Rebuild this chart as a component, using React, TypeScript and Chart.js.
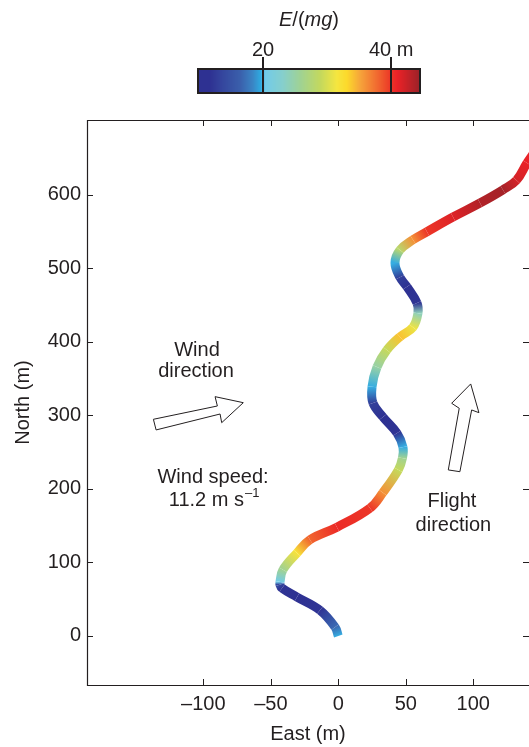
import React, { useEffect, useRef } from 'react';
import { Chart, registerables } from 'chart.js';
Chart.register(...registerables);

// ---- Data ----
const eastM = [0, -2.4, -13.6, -30.6, -41.7, -43.2, -43.2, -41, -30.6, -21, -1, 23.5, 33, 44.5, 47.5, 47.9, 43.5, 33.1, 25.7, 25, 28.7, 36, 45.7, 55.3, 59, 58.3, 50.9, 45.7, 42, 45.7, 55.3, 65.7, 85, 105, 122, 132, 139.8, 146];
const northM = [0, 12, 35, 53, 65, 70, 73.5, 90, 113, 131, 148, 174, 195, 226, 242, 257, 276, 298, 317, 339, 366, 389, 407, 420, 439, 453, 475, 488, 507.5, 525, 539, 550, 570, 589, 607, 620, 643.5, 660];
const energyE = [19.7, 17, 12, 11, 12, 14, 20.5, 26, 32, 38, 40.5, 40, 36, 29, 26, 19.7, 12, 11, 13, 19.7, 25, 29, 34, 31, 24, 12, 11, 13, 19.7, 28, 36, 40, 41.5, 43.5, 44, 42, 41, 41];

const xTicks = [-100, -50, 0, 50, 100];
const yTicks = [0, 100, 200, 300, 400, 500, 600];
const xRange = [-186.2, 141.3];
const yRange = [-66.7, 702];

const cbRange = [9.84, 44.5];
const cbTicks = [20, 40];
const cbTickLabels = ['20', '40 m'];

const cmapValues = [9.8, 11.7, 13.75, 16.4, 18.4, 19.6, 20.4, 23.1, 25.8, 28.9, 31.5, 33.1, 35.2, 37.8, 39.8, 40.9, 44.5];
const cmapColors = ['#2e3192', '#2e3192', '#35479e', '#3a5fab', '#3a85c5', '#2ea9e0', '#72cbe8', '#86cfcc', '#9fd294', '#c3d85e', '#f5e640', '#fcd92b', '#f6a33a', '#f16a30', '#ec3a27', '#ec2227', '#9a2228'];

// annotation arrows (data coordinates)
const windArrowE = [-137, -135, -87.6, -86.4, -70.4, -91.3, -89.6];
const windArrowN = [294.8, 280.3, 302, 290.2, 317.4, 325.6, 312.9];
const flightArrowE = [98.1, 104.2, 98.8, 90.1, 81.5, 89.6, 84];
const flightArrowN = [342.9, 303.8, 307.5, 223.5, 225.9, 309.8, 316.6];

const noteTexts = ['Wind', 'direction', 'Wind speed:', 'Flight', 'direction'];
const noteE = [-104.7, -105.4, -92.8, 84.2, 85.3];
const noteN = [387.8, 359.2, 216.3, 182.3, 149.7];
const speedText = '11.2 m s';
const speedSup = '\u20131';
const speedPos = [-92, 185];

const FONT = '"Liberation Sans", Arial, Helvetica, sans-serif';
const INK = '#231f20';

function hexToRgb(h: string) {
  const n = parseInt(h.slice(1), 16);
  return [(n >> 16) & 255, (n >> 8) & 255, n & 255];
}
function cmap(v: number): string {
  if (v <= cmapValues[0]) return cmapColors[0];
  const last = cmapValues.length - 1;
  if (v >= cmapValues[last]) return cmapColors[last];
  for (let i = 0; i < last; i++) {
    if (v >= cmapValues[i] && v <= cmapValues[i + 1]) {
      const t = (v - cmapValues[i]) / (cmapValues[i + 1] - cmapValues[i]);
      const a = hexToRgb(cmapColors[i]);
      const b = hexToRgb(cmapColors[i + 1]);
      const c = a.map((x, k) => Math.round(x + (b[k] - x) * t));
      return `rgb(${c[0]},${c[1]},${c[2]})`;
    }
  }
  return cmapColors[last];
}

const fmt = (v: number) => (v < 0 ? '\u2013' + Math.abs(v) : String(v));

const framePlugin = {
  id: 'frame',
  afterDatasetsDraw(chart: any) {
    const { ctx, chartArea: a, scales } = chart;
    ctx.save();
    ctx.strokeStyle = INK;
    ctx.lineWidth = 1.2;
    ctx.beginPath();
    ctx.moveTo(a.right + 2, a.top + 0.5);
    ctx.lineTo(a.left + 0.5, a.top + 0.5);
    ctx.lineTo(a.left + 0.5, a.bottom + 0.5);
    ctx.lineTo(a.right + 2, a.bottom + 0.5);
    ctx.stroke();
    const tl = 6;
    ctx.lineWidth = 1;
    ctx.beginPath();
    for (const v of xTicks) {
      const px = Math.round(scales.x.getPixelForValue(v)) + 0.5;
      ctx.moveTo(px, a.bottom);
      ctx.lineTo(px, a.bottom - tl);
      ctx.moveTo(px, a.top);
      ctx.lineTo(px, a.top + tl);
    }
    for (const v of yTicks) {
      const py = Math.round(scales.y.getPixelForValue(v)) + 0.5;
      ctx.moveTo(a.left, py);
      ctx.lineTo(a.left + tl, py);
      ctx.moveTo(a.right, py);
      ctx.lineTo(a.right - tl, py);
    }
    ctx.stroke();
    ctx.restore();
  },
};

const notePlugin = {
  id: 'notes',
  afterDraw(chart: any) {
    const { ctx, scales } = chart;
    const X = (v: number) => scales.x.getPixelForValue(v);
    const Y = (v: number) => scales.y.getPixelForValue(v);
    ctx.save();
    const poly = (es: number[], ns: number[]) => {
      ctx.beginPath();
      es.forEach((e, i) => {
        if (i === 0) ctx.moveTo(X(e), Y(ns[i]));
        else ctx.lineTo(X(e), Y(ns[i]));
      });
      ctx.closePath();
      ctx.fillStyle = '#ffffff';
      ctx.fill();
      ctx.strokeStyle = INK;
      ctx.lineWidth = 1;
      ctx.lineJoin = 'miter';
      ctx.stroke();
    };
    poly(windArrowE, windArrowN);
    poly(flightArrowE, flightArrowN);

    ctx.fillStyle = INK;
    ctx.font = `20px ${FONT}`;
    ctx.textAlign = 'center';
    ctx.textBaseline = 'middle';
    noteTexts.forEach((t, i) => ctx.fillText(t, X(noteE[i]), Y(noteN[i])));

    // speed line with superscript
    ctx.font = `20px ${FONT}`;
    const w1 = ctx.measureText(speedText).width;
    ctx.font = `13px ${FONT}`;
    const w2 = ctx.measureText(speedSup).width;
    const cx = X(speedPos[0]);
    const cy = Y(speedPos[1]);
    const x0 = cx - (w1 + w2 + 1) / 2;
    ctx.textAlign = 'left';
    ctx.font = `20px ${FONT}`;
    ctx.fillText(speedText, x0, cy);
    ctx.font = `13px ${FONT}`;
    ctx.fillText(speedSup, x0 + w1 + 1, cy - 7);
    ctx.restore();
  },
};

const colorbarPlugin = {
  id: 'colorbar',
  afterDraw(chart: any) {
    const { ctx, chartArea: a, scales } = chart;
    const x = scales.x;
    ctx.save();
    for (let px = Math.floor(a.left); px < Math.ceil(a.right); px++) {
      ctx.fillStyle = cmap(x.getValueForPixel(px + 0.5));
      ctx.fillRect(px, a.top, 1, a.bottom - a.top);
    }
    ctx.strokeStyle = INK;
    ctx.lineWidth = 2;
    ctx.strokeRect(a.left, a.top, a.right - a.left, a.bottom - a.top);
    ctx.beginPath();
    cbTicks.forEach((v) => {
      const px = Math.round(x.getPixelForValue(v));
      ctx.moveTo(px, a.top - 12);
      ctx.lineTo(px, a.bottom);
    });
    ctx.stroke();
    ctx.fillStyle = INK;
    ctx.font = `20px ${FONT}`;
    ctx.textAlign = 'center';
    ctx.textBaseline = 'middle';
    cbTicks.forEach((v, i) => {
      ctx.fillText(cbTickLabels[i], x.getPixelForValue(v), a.top - 19);
    });
    // title E/(mg) with italic parts
    const parts: [string, boolean][] = [['E', true], ['/(', false], ['mg', true], [')', false]];
    let total = 0;
    const widths = parts.map(([t, it]) => {
      ctx.font = `${it ? 'italic ' : ''}20px ${FONT}`;
      const w = ctx.measureText(t).width;
      total += w;
      return w;
    });
    let cx = (a.left + a.right) / 2 - total / 2;
    ctx.textAlign = 'left';
    parts.forEach(([t, it], i) => {
      ctx.font = `${it ? 'italic ' : ''}20px ${FONT}`;
      ctx.fillText(t, cx, 20);
      cx += widths[i];
    });
    ctx.restore();
  },
};

export default function App() {
  const mainRef = useRef<HTMLCanvasElement>(null);
  const cbRef = useRef<HTMLCanvasElement>(null);

  useEffect(() => {
    const tickFont = { family: FONT, size: 20 };
    const main = new Chart(mainRef.current as HTMLCanvasElement, {
      type: 'line',
      data: {
        datasets: [
          {
            data: eastM.map((e, i) => ({ x: e, y: northM[i] })),
            borderWidth: 9,
            pointRadius: 0,
            tension: 0.4,
            fill: false,
            borderCapStyle: 'butt',
            borderJoinStyle: 'round',
            borderColor: cmap(energyE[0]),
            segment: {
              borderColor: (c: any) => {
                const g = c.chart.ctx.createLinearGradient(c.p0.x, c.p0.y, c.p1.x, c.p1.y);
                g.addColorStop(0, cmap(energyE[c.p0DataIndex]));
                g.addColorStop(1, cmap(energyE[c.p1DataIndex]));
                return g;
              },
            },
          } as any,
        ],
      },
      options: {
        animation: false,
        responsive: false,
        devicePixelRatio: 1,
        layout: { padding: { top: 120, left: 0, right: 0, bottom: 0 } },
        plugins: { legend: { display: false }, tooltip: { enabled: false } },
        scales: {
          x: {
            type: 'linear',
            min: xRange[0],
            max: xRange[1],
            grid: { display: false, drawTicks: false },
            border: { display: false },
            afterBuildTicks: (s: any) => {
              s.ticks = xTicks.map((v) => ({ value: v }));
            },
            afterFit: (s: any) => {
              s.height = 62;
            },
            ticks: { padding: 7, autoSkip: false, maxRotation: 0, font: tickFont, color: INK, callback: (v: any) => fmt(Number(v)) },
            title: { display: true, text: 'East (m)', font: tickFont, color: INK, padding: { top: 1, bottom: 1 } },
          },
          y: {
            type: 'linear',
            min: yRange[0],
            max: yRange[1],
            grid: { display: false, drawTicks: false },
            border: { display: false },
            afterBuildTicks: (s: any) => {
              s.ticks = yTicks.map((v) => ({ value: v }));
            },
            afterFit: (s: any) => {
              s.width = 87;
            },
            ticks: { padding: 6, autoSkip: false, font: tickFont, color: INK, callback: (v: any) => fmt(Number(v)) },
            title: { display: true, text: 'North (m)', font: tickFont, color: INK, padding: { top: 11, bottom: 11 } },
          },
        },
      } as any,
      plugins: [framePlugin, notePlugin],
    });

    const cb = new Chart(cbRef.current as HTMLCanvasElement, {
      type: 'scatter',
      data: { datasets: [{ data: [] }] },
      options: {
        animation: false,
        responsive: false,
        devicePixelRatio: 1,
        layout: { padding: { top: 69, left: 198, right: 109, bottom: 7 } },
        plugins: { legend: { display: false }, tooltip: { enabled: false } },
        scales: {
          x: { type: 'linear', min: cbRange[0], max: cbRange[1], display: false },
          y: { type: 'linear', min: 0, max: 1, display: false },
        },
      } as any,
      plugins: [colorbarPlugin],
    });

    return () => {
      main.destroy();
      cb.destroy();
    };
  }, []);

  return (
    <div style={{ position: 'absolute', left: 0, top: 0, width: 529, height: 747, background: '#fff' }}>
      <canvas ref={mainRef} width={529} height={747} style={{ position: 'absolute', left: 0, top: 0 }} />
      <canvas ref={cbRef} width={529} height={100} style={{ position: 'absolute', left: 0, top: 0, pointerEvents: 'none' }} />
    </div>
  );
}
